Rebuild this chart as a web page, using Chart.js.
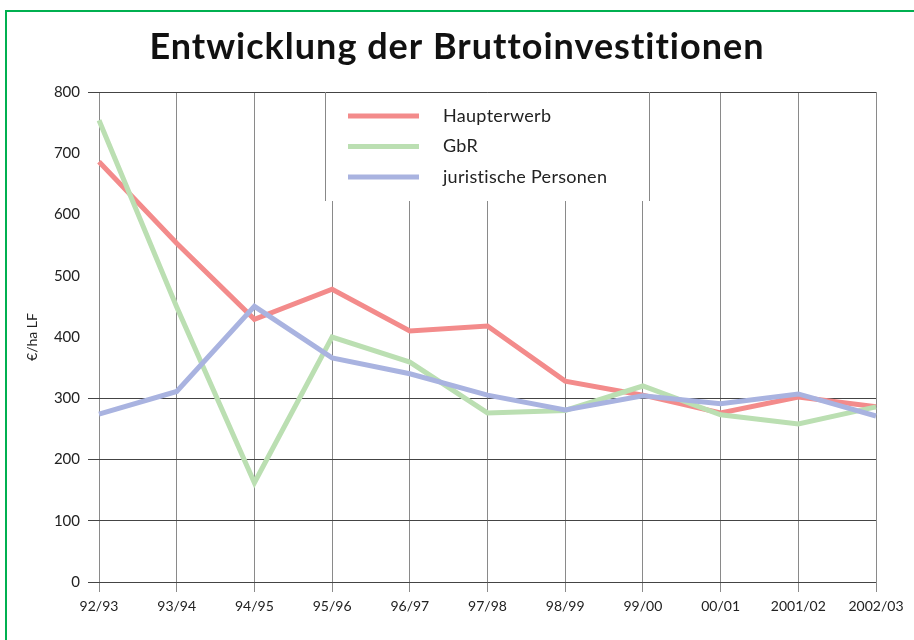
<!DOCTYPE html>
<html>
<head>
<meta charset="utf-8">
<script src="https://cdn.jsdelivr.net/npm/chart.js@4.4.1/dist/chart.umd.min.js"></script>
<style>
    html, body { margin: 0; padding: 0; background: #fff; }
    #wrap { position: relative; width: 914px; height: 640px; overflow: hidden; }
    #frame { position: absolute; left: 5px; top: 10px; width: 960px; height: 700px;
             border-left: 2px solid #00b050; border-top: 2px solid #00b050; }
    canvas { position: absolute; left: 0; top: 0; }
</style>
</head>
<body>
<div id="wrap">
    <div id="frame"></div>
    <canvas id="chart" width="914" height="640"></canvas>
</div>
<script>
// Daten (€/ha LF)
const jahre = ['92/93', '93/94', '94/95', '95/96', '96/97', '97/98', '98/99', '99/00', '00/01', '2001/02', '2002/03'];
const haupterwerb = [686, 553, 429, 478, 410, 418, 328, 305, 276, 302, 286];
const gbr = [754, 449, 162, 400, 359, 276, 280, 320, 273, 258, 286];
const juristischePersonen = [274, 311, 450, 366, 340, 305, 281, 304, 291, 307, 271];
const gitterWerte = [0, 100, 200, 300, 800];

const titel = 'Entwicklung der Bruttoinvestitionen';
const schrift = 'Lato, "Open Sans", sans-serif';

// Titel, Legendenkasten und Legende selbst zeichnen
const extras = {
    id: 'extras',
    beforeDatasetsDraw(chart) {
        const ctx = chart.ctx;
        const top = chart.chartArea.top;
        ctx.save();
        ctx.fillStyle = '#fff';
        ctx.fillRect(325, top + 1, 324, 108);
        ctx.strokeStyle = '#888';
        ctx.lineWidth = 1;
        ctx.beginPath();
        ctx.moveTo(325.5, top); ctx.lineTo(325.5, top + 109);
        ctx.moveTo(649.5, top); ctx.lineTo(649.5, top + 109);
        ctx.stroke();
        ctx.restore();
    },
    afterDraw(chart) {
        const ctx = chart.ctx;
        const top = chart.chartArea.top;
        ctx.save();
        ctx.fillStyle = '#111';
        ctx.font = 'bold 36px ' + schrift;
        ctx.letterSpacing = '1px';
        ctx.textAlign = 'center';
        ctx.textBaseline = 'middle';
        ctx.fillText(titel, 457, 47);

        ctx.letterSpacing = '0.3px';
        ctx.font = '18px ' + schrift;
        ctx.textAlign = 'left';
        chart.data.datasets.forEach((ds, i) => {
            const y = top + 24 + i * 30.5;
            ctx.strokeStyle = ds.borderColor;
            ctx.lineWidth = 5;
            ctx.beginPath();
            ctx.moveTo(348, y);
            ctx.lineTo(419, y);
            ctx.stroke();
            ctx.fillStyle = '#222';
            ctx.fillText(ds.label, 443, y);
        });
        ctx.restore();
    }
};

new Chart(document.getElementById('chart'), {
    type: 'line',
    data: {
        labels: jahre,
        datasets: [
            { label: 'Haupterwerb', data: haupterwerb, borderColor: '#f38b8b', order: 3 },
            { label: 'GbR', data: gbr, borderColor: '#bbdfb2', order: 2 },
            { label: 'juristische Personen', data: juristischePersonen, borderColor: '#a9b3e0', order: 1 }
        ]
    },
    options: {
        responsive: false,
        animation: false,
        layout: { padding: { left: 0, top: 92, right: 38, bottom: 0 } },
        elements: {
            line: { borderWidth: 5, tension: 0, fill: false },
            point: { radius: 0 }
        },
        plugins: {
            legend: { display: false },
            title: { display: false },
            tooltip: { enabled: false }
        },
        scales: {
            x: {
                offset: false,
                border: { display: false },
                grid: { color: '#8a8a8a', lineWidth: 1, tickLength: 10 },
                ticks: { color: '#222', font: { family: schrift, size: 14 }, padding: 6, maxRotation: 0, autoSkip: false },
                afterFit: s => { s.height = 58; }
            },
            y: {
                min: 0,
                max: 800,
                border: { display: false },
                grid: {
                    tickLength: 11,
                    lineWidth: 1,
                    color: c => gitterWerte.includes(c.tick.value) ? '#444' : 'rgba(0,0,0,0)'
                },
                ticks: { stepSize: 100, color: '#222', font: { family: schrift, size: 15 }, padding: 8 },
                title: { display: true, text: '€/ha LF', color: '#222', font: { family: schrift, size: 14 }, padding: { top: 24, bottom: 0 } },
                afterFit: s => { s.width = 99; }
            }
        }
    },
    plugins: [extras]
});
</script>
</body>
</html>
